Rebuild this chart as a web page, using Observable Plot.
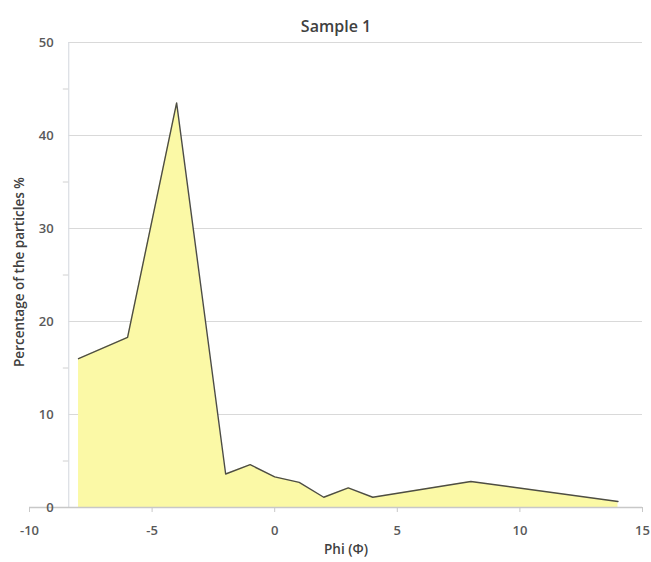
<!DOCTYPE html>
<html>
<head>
<meta charset="utf-8">
<script src="https://cdn.jsdelivr.net/npm/d3@7"></script>
<script src="https://cdn.jsdelivr.net/npm/@observablehq/plot@0.6"></script>
<style>
  html, body { margin: 0; padding: 0; background: #fff; }
  #chart svg { display: block; }
</style>
</head>
<body>
<div id="chart"></div>
<script>
const phi = [-8, -6, -4, -2, -1, 0, 1, 2, 3, 4, 8, 14];
const percent = [16.0, 18.3, 43.5, 3.6, 4.6, 3.3, 2.7, 1.1, 2.1, 1.1, 2.8, 0.65];
const xTicks = [-10, -5, 0, 5, 10, 15];
const yTicks = [0, 10, 20, 30, 40, 50];
const yMinorTicks = [5, 15, 25, 35, 45];
const titleText = "Sample 1";
const xLabel = "Phi (\u03A6)";
const yLabel = "Percentage of the particles %";

const data = phi.map((p, i) => ({phi: p, pct: percent[i]}));
const yAxisAt = -8.4;
const font = "'Open Sans', 'Liberation Sans', sans-serif";
const labelColor = "#595959";

const plot = Plot.plot({
  width: 651,
  height: 562,
  marginLeft: 29,
  marginRight: 9,
  marginTop: 42,
  marginBottom: 55,
  style: {fontFamily: font, fontSize: "13px", color: labelColor, background: "#fff"},
  x: {domain: [-10, 15], axis: null},
  y: {domain: [0, 50], axis: null},
  marks: [
    Plot.ruleY(yTicks.slice(1), {x1: yAxisAt, x2: 15, stroke: "#d9d9d9", strokeWidth: 1.2}),
    Plot.areaY(data, {x: "phi", y: "pct", fill: "#fbf9a6", fillOpacity: 1}),
    Plot.lineY(data, {x: "phi", y: "pct", stroke: "#4d4d45", strokeWidth: 1.4}),
    Plot.ruleX([yAxisAt], {y1: 0, y2: 50, stroke: "#d9dde3", strokeWidth: 1.2}),
    Plot.ruleY(yMinorTicks, {x1: yAxisAt - 0.22, x2: yAxisAt, stroke: "#d0d0d0"}),
    Plot.ruleY([0], {x1: -10, x2: 15, stroke: "#c8c8c8", strokeWidth: 1.3}),
    Plot.axisX({ticks: xTicks, tickFormat: d => String(d), tickSize: 5, tickPadding: 13, stroke: "#c8c8c8", fill: labelColor, fontSize: 13, fontWeight: 600, label: null}),
    Plot.text(yTicks, {x: yAxisAt, y: d => d, text: d => String(d), textAnchor: "end", dx: -15, fill: labelColor, fontSize: 13, fontWeight: 600}),
    Plot.text([titleText], {frameAnchor: "top", dy: -22, fontSize: 16, fill: "#404040", fontWeight: 600}),
    Plot.text([xLabel], {frameAnchor: "bottom", dx: 10, dy: 46, fontSize: 13.5, fill: "#404040", fontWeight: 600}),
    Plot.text([yLabel], {frameAnchor: "left", textAnchor: "middle", dx: -10, dy: -3, rotate: -90, fontSize: 13.5, fill: "#404040", fontWeight: 600})
  ]
});
document.getElementById("chart").appendChild(plot);
</script>
</body>
</html>
